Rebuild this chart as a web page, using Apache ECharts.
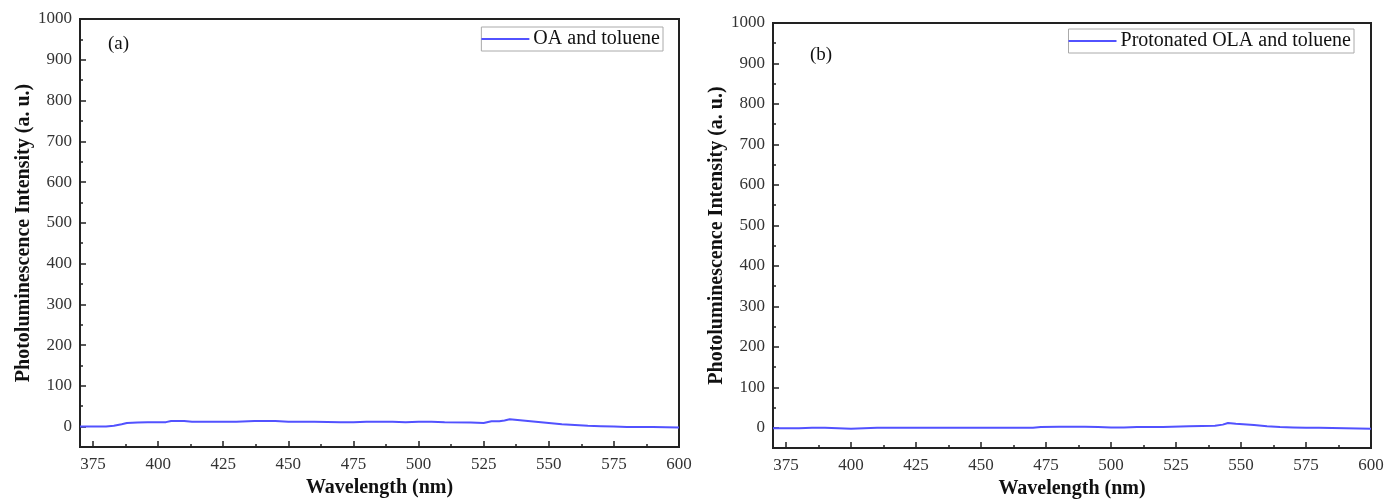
<!DOCTYPE html>
<html>
<head>
<meta charset="utf-8">
<title>PL spectra</title>
<script src="https://cdn.jsdelivr.net/npm/echarts@6/dist/echarts.min.js"></script>
<style>
  html, body { margin: 0; padding: 0; background: #fff; }
  #chart { width: 1387px; height: 504px; }
</style>
</head>
<body>
<div id="chart"></div>
<script>
// 数据 (a) OA and toluene
var waveA = [370, 375, 380, 383, 386, 388, 392, 396, 400, 403, 405, 410, 413, 420, 430, 437, 445, 450, 460, 470, 475, 480, 490, 495, 500, 505, 510, 520, 525, 528, 531, 533, 535, 540, 545, 550, 555, 560, 565, 570, 575, 580, 590, 600]
var plA = [0, 0, 0, 2, 6, 9, 10, 11, 11, 11, 14, 14, 12, 12, 12, 14, 14, 12, 12, 11, 11, 12, 12, 11, 12, 12, 11, 10, 9, 13, 13, 15, 18, 15, 12, 9, 6, 4, 2, 1, 0, -1, -1, -2]
// 数据 (b) Protonated OLA and toluene
var waveB = [370, 375, 380, 385, 390, 395, 400, 405, 410, 420, 430, 440, 450, 460, 470, 473, 480, 490, 495, 500, 505, 510, 520, 530, 540, 543, 545, 548, 555, 560, 565, 570, 575, 580, 590, 600]
var plB = [-1, -1, -1, 0, 0, -1, -2, -1, 0, 0, 0, 0, 0, 0, 0, 2, 3, 3, 2, 1, 1, 2, 2, 4, 5, 8, 12, 10, 7, 4, 2, 1, 0, 0, -1, -2]

var nameA = 'OA and toluene'
var nameB = 'Protonated OLA and toluene'

// 刻度
var xTicks = [375, 400, 425, 450, 475, 500, 525, 550, 575, 600]
var xMinorTicks = [387.5, 412.5, 437.5, 462.5, 487.5, 512.5, 537.5, 562.5, 587.5]
var yTicks = [0, 100, 200, 300, 400, 500, 600, 700, 800, 900, 1000]
var yMinorTicks = [50, 150, 250, 350, 450, 550, 650, 750, 850, 950]

var serif = "'Liberation Serif', 'Times New Roman', serif"
var lineColor = '#5252ff'
var axisColor = '#222'

function pairs (xs, ys) {
  return xs.map(function (x, i) { return [x, ys[i]] })
}

// 主坐标轴
function mainX (gridIndex) {
  return {
    type: 'value', gridIndex: gridIndex, min: 370, max: 600, position: 'bottom',
    name: 'Wavelength (nm)', nameLocation: 'middle', nameGap: 30,
    nameTextStyle: { fontFamily: serif, fontWeight: 'bold', fontSize: 20, color: '#111' },
    axisLine: { onZero: false, lineStyle: { color: axisColor, width: 2 } },
    axisTick: { inside: true, length: 6, customValues: xTicks, lineStyle: { color: axisColor, width: 1.5 } },
    axisLabel: { customValues: xTicks, margin: 9, fontFamily: serif, fontSize: 17, color: '#333',
      formatter: function (v) { return String(v) } },
    splitLine: { show: false }
  }
}
// 次刻度
function minorX (gridIndex) {
  return {
    type: 'value', gridIndex: gridIndex, min: 370, max: 600, position: 'bottom',
    axisLine: { show: false, onZero: false },
    axisTick: { inside: true, length: 3, customValues: xMinorTicks, lineStyle: { color: axisColor, width: 1.5 } },
    axisLabel: { show: false },
    splitLine: { show: false }
  }
}
function mainY (gridIndex, gap) {
  return {
    type: 'value', gridIndex: gridIndex, min: -50, max: 1000, position: 'left',
    name: 'Photoluminescence Intensity (a. u.)', nameLocation: 'middle', nameGap: gap,
    nameTextStyle: { fontFamily: serif, fontWeight: 'bold', fontSize: 20, color: '#111' },
    axisLine: { show: true, onZero: false, lineStyle: { color: axisColor, width: 2 } },
    axisTick: { show: true, inside: true, length: 6, customValues: yTicks, lineStyle: { color: axisColor, width: 1.5 } },
    axisLabel: { customValues: yTicks, margin: 8, fontFamily: serif, fontSize: 17, color: '#333',
      formatter: function (v) { return String(v) } },
    splitLine: { show: false }
  }
}
function minorY (gridIndex) {
  return {
    type: 'value', gridIndex: gridIndex, min: -50, max: 1000, position: 'left',
    axisLine: { show: false, onZero: false },
    axisTick: { show: true, inside: true, length: 3, customValues: yMinorTicks, lineStyle: { color: axisColor, width: 1.5 } },
    axisLabel: { show: false },
    splitLine: { show: false }
  }
}
function legendFor (name, right, top) {
  return {
    data: [{ name: name, icon: 'rect' }], right: right, top: top,
    itemWidth: 48, itemHeight: 2, itemGap: 4,
    borderColor: '#aaa', borderWidth: 1, padding: [2, 3, 2, 0],
    textStyle: { fontFamily: serif, fontSize: 20, color: '#111', padding: [0, 0, 0, -1] }
  }
}
function lineSeries (name, xIdx, yIdx, data) {
  return {
    name: name, type: 'line', xAxisIndex: xIdx, yAxisIndex: yIdx,
    data: data, symbol: 'none', smooth: false,
    lineStyle: { color: lineColor, width: 2 },
    itemStyle: { color: lineColor }
  }
}

var chart = echarts.init(document.getElementById('chart'), null, { renderer: 'canvas' })
var option = {
  backgroundColor: '#fff',
  animation: false,
  grid: [
    { left: 80, top: 19, width: 599, height: 428, show: true, borderColor: axisColor, borderWidth: 2 },
    { left: 773, top: 23, width: 598, height: 428, show: true, borderColor: axisColor, borderWidth: 2 }
  ],
  xAxis: [mainX(0), minorX(0), mainX(1), minorX(1)],
  yAxis: [mainY(0, 39), minorY(0), mainY(1, 38), minorY(1)],
  legend: [legendFor(nameA, 1387 - 663, 27), legendFor(nameB, 1387 - 1354, 29)],
  graphic: [
    { type: 'text', left: 108, top: 35, style: { text: '(a)', font: '19px ' + serif, fill: '#111' } },
    { type: 'text', left: 810, top: 46, style: { text: '(b)', font: '19px ' + serif, fill: '#111' } }
  ],
  series: [
    lineSeries(nameA, 0, 0, pairs(waveA, plA)),
    lineSeries(nameB, 2, 2, pairs(waveB, plB))
  ]
}
chart.setOption(option)
</script>
</body>
</html>
